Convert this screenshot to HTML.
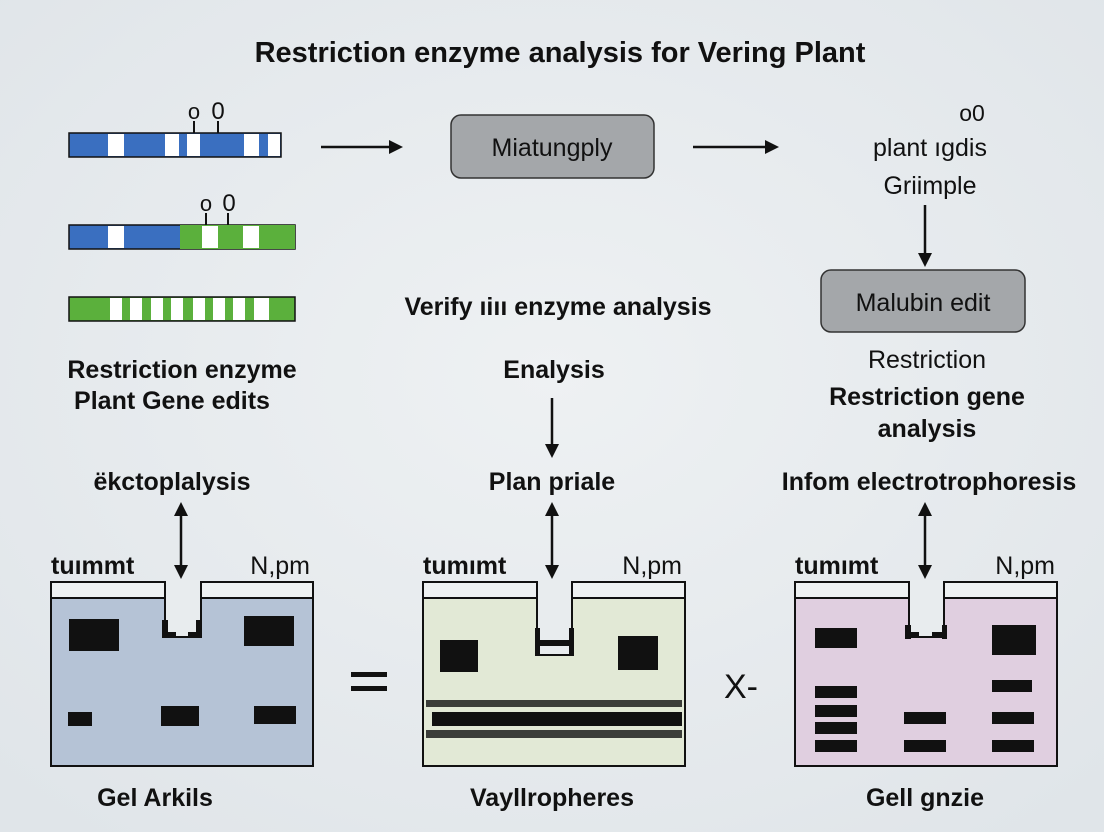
<!DOCTYPE html>
<html><head><meta charset="utf-8"><style>
body{margin:0;background:#e8ecef}
svg{display:block}
text{font-family:"Liberation Sans",sans-serif;fill:#111}
</style></head><body>
<svg width="1104" height="832" viewBox="0 0 1104 832">
<defs>
<marker id="a" markerWidth="14" markerHeight="14" refX="11" refY="7" orient="auto-start-reverse" markerUnits="userSpaceOnUse" viewBox="0 0 14 14"><path d="M0,0 L14,7 L0,14z" fill="#111"/></marker>
<radialGradient id="bg" cx="50%" cy="45%" r="70%"><stop offset="0" stop-color="#eef1f3"/><stop offset="1" stop-color="#e0e5e9"/></radialGradient>
</defs>
<rect width="1104" height="832" fill="url(#bg)"/>
<text x="560" y="62" font-size="29" font-weight="bold" text-anchor="middle">Restriction enzyme analysis for Vering Plant</text>

<g stroke="#111" stroke-width="1.5">
<rect x="69" y="133" width="212" height="24" fill="#3a6fc0"/>
<rect x="69" y="225" width="226" height="24" fill="#3a6fc0"/>
<rect x="180" y="225" width="115" height="24" fill="#5bb03c" stroke="none"/>
<rect x="69" y="297" width="226" height="24" fill="#5bb03c"/>
</g>
<g fill="#fff">
<rect x="108" y="134" width="16" height="22"/><rect x="165" y="134" width="14" height="22"/><rect x="187" y="134" width="13" height="22"/><rect x="244" y="134" width="15" height="22"/><rect x="268" y="134" width="12" height="22"/>
<rect x="108" y="226" width="16" height="22"/><rect x="202" y="226" width="16" height="22"/><rect x="243" y="226" width="16" height="22"/>
<rect x="110" y="298" width="12" height="22"/><rect x="130" y="298" width="12" height="22"/><rect x="151" y="298" width="12" height="22"/><rect x="171" y="298" width="12" height="22"/><rect x="193" y="298" width="12" height="22"/><rect x="213" y="298" width="12" height="22"/><rect x="233" y="298" width="12" height="22"/><rect x="254" y="298" width="15" height="22"/>
</g>
<g stroke="#111" stroke-width="2"><line x1="194" y1="121" x2="194" y2="133"/><line x1="218" y1="121" x2="218" y2="133"/><line x1="206" y1="213" x2="206" y2="225"/><line x1="228" y1="213" x2="228" y2="225"/></g>
<text x="194" y="119" font-size="22" text-anchor="middle">o</text><text x="218" y="119" font-size="24" text-anchor="middle">0</text>
<text x="206" y="211" font-size="22" text-anchor="middle">o</text><text x="229" y="211" font-size="24" text-anchor="middle">0</text>

<g stroke="#111" stroke-width="2.5" marker-end="url(#a)">
<line x1="321" y1="147" x2="400" y2="147"/>
<line x1="693" y1="147" x2="776" y2="147"/>
<line x1="925" y1="205" x2="925" y2="264"/>
<line x1="552" y1="398" x2="552" y2="455"/>
</g>
<g stroke="#111" stroke-width="2.5" marker-end="url(#a)" marker-start="url(#a)">
<line x1="181" y1="505" x2="181" y2="576"/>
<line x1="552" y1="505" x2="552" y2="576"/>
<line x1="925" y1="505" x2="925" y2="576"/>
</g>

<rect x="451" y="115" width="203" height="63" rx="10" fill="#a4a7aa" stroke="#333" stroke-width="1.5"/>
<text x="552" y="156" font-size="25" text-anchor="middle">Miatungply</text>
<rect x="821" y="270" width="204" height="62" rx="10" fill="#a4a7aa" stroke="#333" stroke-width="1.5"/>
<text x="923" y="311" font-size="25" text-anchor="middle">Malubin edit</text>

<text x="972" y="121" font-size="23" text-anchor="middle">o0</text>
<text x="930" y="156" font-size="25" text-anchor="middle">plant ıgdis</text>
<text x="930" y="194" font-size="25" text-anchor="middle">Griimple</text>

<g font-weight="bold" text-anchor="middle" font-size="25">
<text x="558" y="315">Verify ıiıı enzyme analysis</text>
<text x="182" y="378">Restriction enzyme</text>
<text x="172" y="409">Plant Gene edits</text>
<text x="554" y="378">Enalysis</text>
<text x="927" y="405">Restriction gene</text>
<text x="927" y="437">analysis</text>
<text x="172" y="490">ëkctoplalysis</text>
<text x="552" y="490">Plan priale</text>
<text x="929" y="490">Infom electrotrophoresis</text>
<text x="155" y="806">Gel Arkils</text>
<text x="552" y="806">Vayllropheres</text>
<text x="925" y="806">Gell gnzie</text>
</g>
<text x="927" y="368" font-size="25" text-anchor="middle">Restriction</text>

<g font-size="25">
<text x="51" y="574" font-weight="bold">tuımmt</text><text x="310" y="574" text-anchor="end">N,pm</text>
<text x="423" y="574" font-weight="bold">tumımt</text><text x="682" y="574" text-anchor="end">N,pm</text>
<text x="795" y="574" font-weight="bold">tumımt</text><text x="1055" y="574" text-anchor="end">N,pm</text>
</g>
<g stroke="#111" stroke-width="2">
<rect x="51" y="582" width="262" height="184" fill="#b5c3d6"/>
<rect x="423" y="582" width="262" height="184" fill="#e2e9d6"/>
<rect x="795" y="582" width="262" height="184" fill="#e0cfe0"/>
<g fill="#eef1f2">
<rect x="51" y="582" width="262" height="16"/><rect x="423" y="582" width="262" height="16"/><rect x="795" y="582" width="262" height="16"/>
</g>
<path d="M165,582 V637 H201 V582" fill="#e8ecee"/>
<path d="M537,582 V655 H572 V582" fill="#e8ecee"/>
<path d="M909,582 V637 H944 V582" fill="#e8ecee"/>
</g>
<g fill="#e8ecee"><rect x="166" y="580" width="34" height="55"/><rect x="538" y="580" width="33" height="70"/><rect x="910" y="580" width="33" height="55"/></g>
<g fill="#111">
<rect x="162" y="620" width="6" height="18"/><rect x="162" y="632" width="14" height="6"/><rect x="188" y="632" width="14" height="6"/><rect x="196" y="620" width="6" height="18"/>
<rect x="69" y="619" width="50" height="32"/><rect x="244" y="616" width="50" height="30"/>
<rect x="68" y="712" width="24" height="14"/><rect x="161" y="706" width="38" height="20"/><rect x="254" y="706" width="42" height="18"/>
<rect x="536" y="640" width="36" height="6"/><rect x="535" y="628" width="5" height="28"/><rect x="569" y="628" width="5" height="28"/>
<rect x="440" y="640" width="38" height="32"/><rect x="618" y="636" width="40" height="34"/>
<rect x="426" y="700" width="256" height="7" opacity=".8"/><rect x="432" y="712" width="250" height="14"/><rect x="426" y="730" width="256" height="8" opacity=".8"/>
<rect x="905" y="625" width="6" height="14"/><rect x="905" y="632" width="14" height="6"/><rect x="932" y="632" width="14" height="6"/><rect x="942" y="625" width="5" height="14"/>
<rect x="815" y="628" width="42" height="20"/><rect x="815" y="686" width="42" height="12"/><rect x="992" y="625" width="44" height="30"/><rect x="992" y="680" width="40" height="12"/>
<rect x="815" y="705" width="42" height="12"/><rect x="815" y="722" width="42" height="12"/><rect x="815" y="740" width="42" height="12"/>
<rect x="904" y="712" width="42" height="12"/><rect x="904" y="740" width="42" height="12"/><rect x="992" y="712" width="42" height="12"/><rect x="992" y="740" width="42" height="12"/>
<rect x="351" y="672" width="36" height="5"/><rect x="351" y="686" width="36" height="5"/>
</g>
<text x="741" y="698" font-size="34" text-anchor="middle">X-</text>
</svg>
</body></html>
